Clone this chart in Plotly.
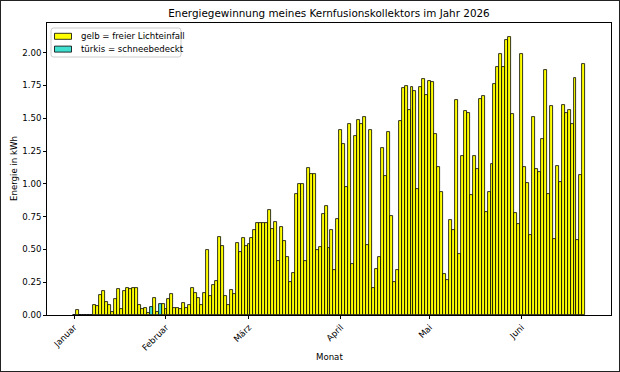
import pandas as pd
import plotly.graph_objects as go

# ---- Daten ----
monate = ["Januar", "Februar", "März", "April", "Mai", "Juni"]
monatsanfang = ["2026-01-01", "2026-02-01", "2026-03-01", "2026-04-01", "2026-05-01", "2026-06-01"]

januar = [0, 0.04, 0, 0, 0, 0, 0, 0.075, 0.072, 0.152, 0.18, 0.10, 0.077, 0.025, 0.12,
          0.20, 0.046, 0.183, 0.206, 0.20, 0.205, 0.208, 0.077, 0.047, 0.055, 0.018,
          0.064, 0.131, 0.023, 0.087, 0.081]
februar = [0.048, 0.12, 0.162, 0.057, 0.052, 0.043, 0.092, 0.056, 0.076, 0.209, 0.168,
           0.13, 0.076, 0.168, 0.496, 0.148, 0.229, 0.26, 0.598, 0.527, 0.148, 0.076,
           0.188, 0.16, 0.547, 0.483, 0.59, 0.529]
maerz = [0.545, 0.588, 0.649, 0.70, 0.702, 0.702, 0.702, 0.804, 0.654, 0.71, 0.41, 0.672,
         0.565, 0.444, 0.255, 0.324, 0.921, 0.995, 1.002, 0.41, 1.122, 1.077, 1.077,
         0.492, 0.517, 0.767, 0.831, 0.512, 0.646, 0.342, 0.729]
april = [1.413, 1.305, 0.975, 1.458, 0.386, 1.362, 1.488, 1.454, 1.513, 0.531, 1.412,
         0.207, 0.348, 0.443, 1.276, 1.063, 1.396, 0.756, 0.25, 0.34, 1.477, 1.73, 1.746,
         1.56, 1.738, 1.708, 0.964, 1.74, 1.799, 1.679]
mai = [1.784, 1.779, 1.382, 1.127, 0.934, 0.31, 0.265, 0.723, 0.651, 1.636, 0.463, 1.209,
       1.552, 1.54, 0.918, 1.215, 1.112, 1.647, 1.667, 0.782, 0.934, 1.148, 1.758, 1.888,
       1.986, 1.893, 2.1, 2.12, 1.534, 0.776, 0.695]
juni = [1.99, 1.126, 1.004, 0.611, 1.508, 1.112, 1.092, 1.343, 1.865, 0.923, 1.594, 0.58,
        1.133, 1.014, 1.603, 1.542, 1.565, 1.454, 1.81, 0.573, 1.069, 1.91]

schneetage = ["2026-01-27", "2026-01-30"]

legenden_texte = ["gelb = freier Lichteinfall", "türkis = schneebedeckt"]
farben = ["#ffff00", "#40e0d0"]

werte = januar + februar + maerz + april + mai + juni
tage = pd.date_range("2026-01-01", periods=len(werte), freq="D")
schnee = set(pd.to_datetime(schneetage))

gelb_y = [None if t in schnee else v for t, v in zip(tage, werte)]
tuerkis_x = [t for t in tage if t in schnee]
tuerkis_y = [v for t, v in zip(tage, werte) if t in schnee]

TAG_MS = 86400000
FONT = "DejaVu Sans"

fig = go.Figure()
fig.add_trace(go.Bar(
    x=tage, y=gelb_y, width=TAG_MS, name=legenden_texte[0], showlegend=False,
    marker=dict(color=farben[0], line=dict(color="black", width=0.8)),
))
fig.add_trace(go.Bar(
    x=tuerkis_x, y=tuerkis_y, width=TAG_MS, name=legenden_texte[1], showlegend=False,
    marker=dict(color=farben[1], line=dict(color="black", width=0.8)),
))

n = len(werte)
rand = pd.Timedelta(days=0.5 + 0.05 * n)
x_range = [tage[0] - rand, tage[-1] + rand]
y_max = max(werte) * 1.05

W, H = 620, 372
L, R, T, B = 47, 9, 23, 57
pw, ph = W - L - R, H - T - B


def px_x(px):
    return (px - L) / pw


def px_y(py):
    return (H - B - py) / ph


fig.update_layout(
    width=W, height=H,
    margin=dict(l=L, r=R, t=T, b=B),
    paper_bgcolor="white", plot_bgcolor="white",
    font=dict(family=FONT, size=8.6, color="black"),
    barmode="overlay", bargap=0,
    title=dict(text="Energiegewinnung meines Kernfusionskollektors im Jahr 2026",
               x=0.5, xref="paper", xanchor="center",
               y=1 - 13 / H, yref="container", yanchor="middle",
               font=dict(family=FONT, size=10.4, color="black")),
    showlegend=False,
)
fig.update_xaxes(
    type="date", range=x_range,
    tickvals=monatsanfang, ticktext=monate, tickangle=-45,
    showgrid=False, zeroline=False,
    showline=True, linecolor="black", linewidth=0.8, mirror=True,
    ticks="outside", ticklen=3, tickwidth=0.8, tickcolor="black",
)
fig.update_yaxes(
    range=[0, y_max],
    tickvals=[0, 0.25, 0.5, 0.75, 1.0, 1.25, 1.5, 1.75, 2.0], tickformat=".2f",
    showgrid=False, zeroline=False,
    showline=True, linecolor="black", linewidth=0.8, mirror=True,
    ticks="outside", ticklen=3, tickwidth=0.8, tickcolor="black",
)
fig.add_annotation(text="Energie in kWh", textangle=-90, showarrow=False,
                   xref="paper", yref="paper", x=px_x(14), y=0.5,
                   xanchor="center", yanchor="middle", font=dict(family=FONT, size=8.6))
fig.add_annotation(text="Monat", showarrow=False,
                   xref="paper", yref="paper", x=0.5, y=px_y(357),
                   xanchor="center", yanchor="middle", font=dict(family=FONT, size=8.6))

# Legende (wie matplotlib: abgerundeter Rahmen, breite Farbfelder)
bx0, bx1, by0, by1, r = 51, 181, 28, 57, 2.5
pfad = (f"M {px_x(bx0 + r)},{px_y(by0)} L {px_x(bx1 - r)},{px_y(by0)} "
        f"Q {px_x(bx1)},{px_y(by0)} {px_x(bx1)},{px_y(by0 + r)} "
        f"L {px_x(bx1)},{px_y(by1 - r)} Q {px_x(bx1)},{px_y(by1)} {px_x(bx1 - r)},{px_y(by1)} "
        f"L {px_x(bx0 + r)},{px_y(by1)} Q {px_x(bx0)},{px_y(by1)} {px_x(bx0)},{px_y(by1 - r)} "
        f"L {px_x(bx0)},{px_y(by0 + r)} Q {px_x(bx0)},{px_y(by0)} {px_x(bx0 + r)},{px_y(by0)} Z")
fig.add_shape(type="path", path=pfad, xref="paper", yref="paper",
              line=dict(color="#cccccc", width=1), fillcolor="rgba(255,255,255,0.8)", layer="above")
for i, (txt, col) in enumerate(zip(legenden_texte, farben)):
    yc = 36.3 + i * 12.8
    fig.add_shape(type="rect", xref="paper", yref="paper",
                  x0=px_x(54.5), x1=px_x(71.5), y0=px_y(yc + 3), y1=px_y(yc - 3),
                  line=dict(color="black", width=0.8), fillcolor=col, layer="above")
    fig.add_annotation(text=txt, showarrow=False, xref="paper", yref="paper",
                       x=px_x(78.5), y=px_y(yc), xanchor="left", yanchor="middle",
                       font=dict(family=FONT, size=8.6))

# Rahmen um die ganze Abbildung
fig.add_shape(type="rect", xref="paper", yref="paper",
              x0=-L / pw, x1=(W - L) / pw, y0=-B / ph, y1=(H - B) / ph,
              line=dict(color="#222222", width=2), fillcolor="rgba(0,0,0,0)", layer="above")

fig.write_html("out.html")
